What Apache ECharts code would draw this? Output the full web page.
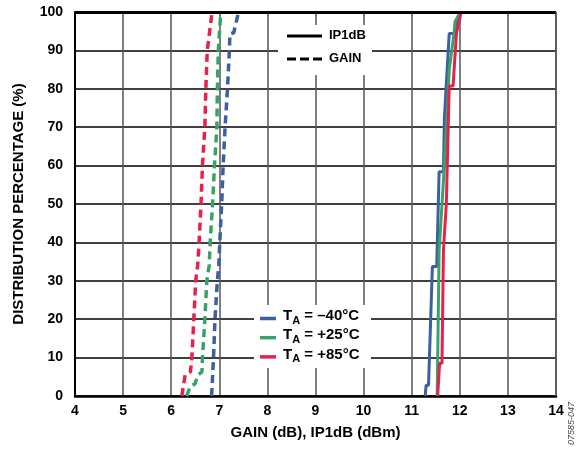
<!DOCTYPE html>
<html>
<head>
<meta charset="utf-8">
<script src="https://cdn.jsdelivr.net/npm/echarts@6/dist/echarts.min.js"></script>
<style>html,body{margin:0;padding:0;background:#fff}#c{width:583px;height:451px}</style>
</head>
<body>
<div id="c"></div>
<script>
// x tick labels and y tick labels
var xTicks = [4, 5, 6, 7, 8, 9, 10, 11, 12, 13, 14];
var yTicks = [0, 10, 20, 30, 40, 50, 60, 70, 80, 90, 100];

// GAIN (dB) cumulative distributions [value, percent]
var gainM40 = [[6.84,0],[6.88,10],[6.91,20],[6.96,30],[6.99,34],[7.01,40],[7.05,50],[7.08,60],[7.12,70],[7.17,80],[7.21,90],[7.22,94.3],[7.30,94.6],[7.40,100]];
var gainP25 = [[6.32,0],[6.40,2.6],[6.49,3.1],[6.56,5.5],[6.64,6.3],[6.65,10],[6.70,20],[6.74,30],[6.79,34],[6.81,40],[6.86,50],[6.90,60],[6.95,70],[6.96,80],[6.98,90],[7.03,100]];
var gainP85 = [[6.22,0],[6.29,5.5],[6.40,6.3],[6.43,10],[6.47,20],[6.51,30],[6.55,34],[6.58,40],[6.62,50],[6.65,60],[6.70,70],[6.72,80],[6.75,90],[6.85,100]];

// IP1dB (dBm) cumulative distributions [value, percent]
var ipM40 = [[11.28,0],[11.30,2.8],[11.35,2.8],[11.43,33.7],[11.52,33.7],[11.57,58.4],[11.66,58.4],[11.68,72.5],[11.72,72.5],[11.78,94.4],[11.90,94.4],[12.00,100]];
var ipP25 = [[11.53,0],[11.57,38],[11.63,50],[11.68,60],[11.73,72],[11.78,85],[11.88,94.4],[11.90,97.5],[11.93,97.5],[12.01,100]];
var ipP85 = [[11.54,0],[11.58,8.5],[11.63,8.5],[11.66,38],[11.72,50],[11.76,70],[11.78,80.7],[11.86,80.7],[11.93,94.4],[12.03,100]];

var seriesNames = ['T_A = –40°C', 'T_A = +25°C', 'T_A = +85°C'];
var styleNames = ['IP1dB', 'GAIN'];
var colors = ['#3b5fa3', '#38a267', '#e8204c'];

var FONT = '"Liberation Sans", Arial, sans-serif';

function solid(data, c) {
  return {type:'line', data:data, showSymbol:false, symbol:'none', lineStyle:{color:c, width:3}, z:3, animation:false};
}
function dashed(data, c) {
  return {type:'line', data:data, showSymbol:false, symbol:'none', lineStyle:{color:c, width:3.5, type:[8,5]}, z:3, animation:false};
}

var chart = echarts.init(document.getElementById('c'), null, {renderer:'canvas'});
var legendY = 318.5, legendGap = 19.2;
var graphics = [
  {type:'rect', z:10, shape:{x:278, y:25, width:94, height:50}, style:{fill:'#fff'}},
  {type:'line', z:11, shape:{x1:287, y1:36, x2:322, y2:36}, style:{stroke:'#000', lineWidth:3}},
  {type:'line', z:11, shape:{x1:287, y1:59, x2:322, y2:59}, style:{stroke:'#000', lineWidth:3, lineDash:[9,4]}},
  {type:'text', z:11, left:329, top:29, style:{text:styleNames[0], font:'bold 13px ' + FONT, fill:'#000'}},
  {type:'text', z:11, left:329, top:52, style:{text:styleNames[1], font:'bold 13px ' + FONT, fill:'#000'}},
  {type:'rect', z:10, shape:{x:254, y:305, width:117, height:63}, style:{fill:'#fff'}}
];
for (var i = 0; i < 3; i++) {
  var yy = legendY + i * legendGap;
  var parts = seriesNames[i].split('_A');
  graphics.push({type:'line', z:11, shape:{x1:260, y1:yy, x2:276, y2:yy}, style:{stroke:colors[i], lineWidth:3.5}});
  graphics.push({type:'text', z:11, left:283, top:yy - 10, style:{
    text:'{t|' + parts[0] + '}{s|A}{t|' + parts[1] + '}',
    rich:{
      t:{fontFamily:FONT, fontWeight:'bold', fontSize:15, fill:'#000', lineHeight:20, verticalAlign:'top'},
      s:{fontFamily:FONT, fontWeight:'bold', fontSize:11, fill:'#000', lineHeight:20, verticalAlign:'top', padding:[7,0,0,0]}
    }
  }});
}
graphics.push({type:'text', z:11, rotation:Math.PI/2, x:567, y:445, style:{text:'07585-047', font:'italic 9px ' + FONT, fill:'#444'}});

chart.setOption({
  animation:false,
  backgroundColor:'#fff',
  grid:{left:75, right:27, top:12, bottom:55},
  xAxis:{
    type:'value', min:xTicks[0], max:xTicks[xTicks.length-1], interval:1,
    name:'GAIN (dB), IP1dB (dBm)', nameLocation:'middle', nameGap:29,
    nameTextStyle:{fontFamily:FONT, fontWeight:'bold', fontSize:15, color:'#000'},
    axisLine:{show:true, onZero:false, lineStyle:{color:'#000', width:2.5}},
    axisTick:{show:false},
    axisLabel:{fontFamily:FONT, fontWeight:'bold', fontSize:14, color:'#000', margin:8},
    splitLine:{show:true, lineStyle:{color:'#555', width:1.5}}
  },
  yAxis:{
    type:'value', min:yTicks[0], max:yTicks[yTicks.length-1], interval:10,
    name:'DISTRIBUTION PERCENTAGE (%)', nameLocation:'middle', nameGap:49,
    nameTextStyle:{fontFamily:FONT, fontWeight:'bold', fontSize:15, color:'#000'},
    axisLine:{show:true, onZero:false, lineStyle:{color:'#000', width:2}},
    axisTick:{show:false},
    axisLabel:{fontFamily:FONT, fontWeight:'bold', fontSize:14, color:'#000', margin:12},
    splitLine:{show:true, lineStyle:{color:'#000', width:1.5}}
  },
  series:[
    dashed(gainM40, colors[0]), dashed(gainP25, colors[1]), dashed(gainP85, colors[2]),
    solid(ipM40, colors[0]), solid(ipP25, colors[1]), solid(ipP85, colors[2]),
    {type:'line', data:[], markLine:{silent:true, symbol:'none', label:{show:false}, lineStyle:{color:'#000', width:3, type:'solid'}, data:[[{coord:[4,100]},{coord:[14,100]}]]}},
    {type:'line', data:[], markLine:{silent:true, symbol:'none', label:{show:false}, lineStyle:{color:'#555', width:1.5, type:'solid'}, data:[[{coord:[14,0]},{coord:[14,100]}]]}}
  ],
  graphic:graphics
});
</script>
</body>
</html>
